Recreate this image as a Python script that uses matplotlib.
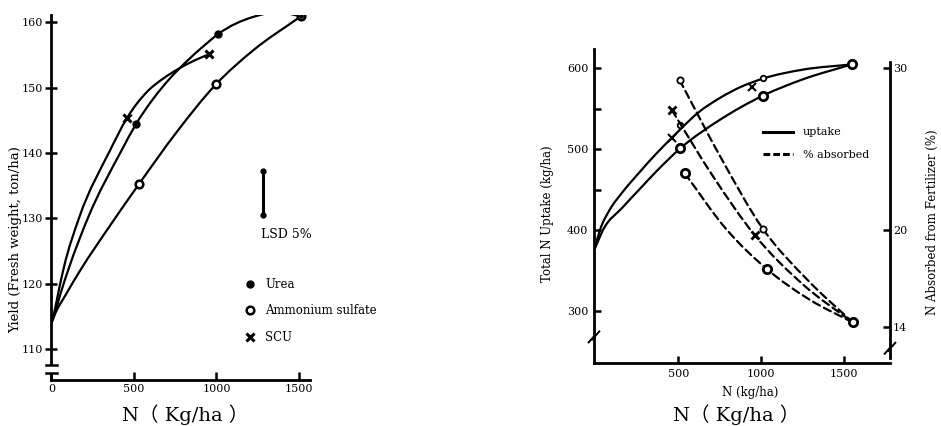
import matplotlib
matplotlib.use("Agg")
import matplotlib.pyplot as plt
from matplotlib.path import Path
from matplotlib.patches import PathPatch
from matplotlib.lines import Line2D

plt.rcParams["font.family"] = ["DejaVu Serif", "Noto Sans CJK SC"]

# ---- left panel: yield (ton/ha) vs N (kg/ha) ----
urea_n = [512, 1011, 1512]
urea_yield = [144.4, 158.2, 160.9]
as_n = [532, 997, 1512]
as_yield = [135.3, 150.5, 160.9]
scu_n = [459, 956]
scu_yield = [145.4, 155.1]

# curve traces
urea_curve_n = [0, 20, 56, 108, 223, 425, 512, 617, 718, 819, 920, 1011, 1222, 1385, 1512]
urea_curve_y = [114, 115.5, 118.6, 122.6, 130.2, 140.4, 144.4, 148.3, 151.4, 154.0, 156.3, 158.2, 160.8, 161.5, 160.9]
scu_curve_n = [0, 20, 41, 76, 169, 355, 459, 577, 678, 779, 880, 956]
scu_curve_y = [114, 116, 118.6, 122.6, 130.2, 140.4, 145.4, 149.3, 151.4, 153.0, 154.3, 155.1]
as_curve_n = [0, 20, 88, 173, 355, 532, 759, 997, 1223, 1512]
as_curve_y = [114, 115.3, 118.4, 122.0, 128.9, 135.3, 143.2, 150.5, 155.7, 160.9]

lsd_n = 1284
lsd_range = [130.5, 137.3]

# ---- right panel: N uptake (kg/ha) and % absorbed ----
up_hi_curve_n = [0, 30, 84, 165, 265, 366, 462, 513, 620, 750, 880, 1011, 1250, 1545]
up_hi_curve_y = [380, 401, 424, 447, 471, 494, 514, 524.5, 545, 563, 577, 587, 598, 604.5]
up_lo_curve_n = [0, 44, 165, 265, 366, 513, 750, 1011, 1250, 1545]
up_lo_curve_y = [378, 399, 428, 450, 472, 501, 536, 566, 586, 604.5]
up_urea_n = [513, 1011]
up_urea_y = [530, 588]
up_scu_n = [462, 944]
up_scu_y = [514, 577]
up_as_n = [513, 1011, 1545]
up_as_y = [501, 566, 604.5]

pct_urea_n = [508, 760, 1011, 1280, 1550]
pct_urea = [29.25, 24.4, 20.05, 16.9, 14.3]
pct_scu_n = [461, 710, 959, 1255, 1550]
pct_scu = [27.4, 23.3, 19.7, 16.6, 14.3]
pct_as_n = [539, 785, 1032, 1291, 1550]
pct_as = [23.5, 20.1, 17.6, 15.7, 14.3]
pct_urea_mk_n = [508, 1011]
pct_urea_mk = [29.25, 20.05]
pct_scu_mk_n = [461, 959]
pct_scu_mk = [27.4, 19.7]
pct_as_mk_n = [539, 1032, 1550]
pct_as_mk = [23.5, 17.6, 14.3]

LW = 1.6
DASH = (0, (3.5, 2.0))


def smooth(ax, xs, ys, **kw):
    # cubic Hermite through the traced points (slopes from neighbours), drawn as Bezier path
    n = len(xs)
    m = []
    for i in range(n):
        if i == 0:
            m.append((ys[1] - ys[0]) / (xs[1] - xs[0]))
        elif i == n - 1:
            m.append((ys[-1] - ys[-2]) / (xs[-1] - xs[-2]))
        else:
            h0 = xs[i] - xs[i - 1]
            h1 = xs[i + 1] - xs[i]
            s0 = (ys[i] - ys[i - 1]) / h0
            s1 = (ys[i + 1] - ys[i]) / h1
            m.append((s0 * h1 + s1 * h0) / (h0 + h1))
    verts = [(xs[0], ys[0])]
    codes = [Path.MOVETO]
    for i in range(n - 1):
        h = xs[i + 1] - xs[i]
        verts += [(xs[i] + h / 3, ys[i] + m[i] * h / 3),
                  (xs[i + 1] - h / 3, ys[i + 1] - m[i + 1] * h / 3),
                  (xs[i + 1], ys[i + 1])]
        codes += [Path.CURVE4] * 3
    ax.add_patch(PathPatch(Path(verts, codes), fill=False, lw=LW, color="black",
                           capstyle="round", **kw))


fig = plt.figure(figsize=(9.41, 4.26), dpi=100)

# ================= left panel =================
ax1 = fig.add_axes([0.0547, 0.108, 0.2747, 0.8568])
ax1.set_xlim(0, 1567)
ax1.set_ylim(105.3, 161.1)
for s in ("top", "right"):
    ax1.spines[s].set_visible(False)
for s in ("left", "bottom"):
    ax1.spines[s].set_linewidth(2.0)

smooth(ax1, urea_curve_n, urea_curve_y)
smooth(ax1, scu_curve_n, scu_curve_y)
smooth(ax1, as_curve_n, as_curve_y)

h_urea, = ax1.plot(urea_n, urea_yield, "o", ms=5, color="black", ls="none", label="Urea")
h_as, = ax1.plot(as_n, as_yield, "o", ms=5.5, mfc="white", mec="black", mew=1.8,
                 ls="none", label="Ammonium sulfate")
ax1.plot(urea_n[-1:], urea_yield[-1:], "o", ms=2.5, color="black")
h_scu, = ax1.plot(scu_n, scu_yield, "x", ms=6, mew=2.2, color="black", ls="none", label="SCU")

ax1.plot([lsd_n, lsd_n], lsd_range, "-o", lw=2.2, ms=3.5, color="black")
ax1.text(lsd_n - 15, 127.6, "LSD 5%", fontsize=9, va="center", ha="left")

ax1.legend(handles=[h_urea, h_as, h_scu], loc="upper left", bbox_to_anchor=(0.745, 0.28),
           frameon=False, fontsize=8.5, handlelength=1.0, handletextpad=0.8,
           labelspacing=1.15, borderpad=0, borderaxespad=0)

ax1.set_xticks([0, 500, 1000, 1500])
ax1.set_yticks([110, 120, 130, 140, 150, 160])
ax1.tick_params(axis="y", direction="inout", length=8, width=1.8, labelsize=8, pad=2)
ax1.tick_params(axis="x", direction="in", length=6, width=1.8, labelsize=8, pad=3)

# axis break on the y axis
ax1.fill_between([-0.02, 0.02], 106.5, 107.4, transform=ax1.get_yaxis_transform(),
                 color="white", clip_on=False, zorder=5)
for yb in (107.55, 106.35):
    ax1.plot([-0.02, 0.02], [yb, yb], transform=ax1.get_yaxis_transform(),
             color="black", lw=1.8, clip_on=False, zorder=6)

fig.text(0.017, 0.437, "Yield (Fresh weight, ton/ha)", rotation=90, fontsize=9.5,
         ha="center", va="center")
fig.text(0.197, 0.012, "N（ Kg/ha ）", fontsize=14, ha="center", va="baseline")

# ================= right panel =================
ax2 = fig.add_axes([0.6312, 0.1479, 0.3146, 0.7371])
ax2.set_xlim(-8, 1775)
ax2.set_ylim(235.8, 623.5)
ax2.spines["top"].set_visible(False)
ax2.spines["right"].set_visible(False)
for s in ("left", "bottom"):
    ax2.spines[s].set_linewidth(2.0)

ax3 = ax2.twinx()
ax3.set_ylim(235.8 / 20, 623.5 / 20)
for s in ("top", "left", "bottom"):
    ax3.spines[s].set_visible(False)
ax3.spines["right"].set_linewidth(2.0)
ax3.spines["right"].set_bounds(12.1, 30.4)

smooth(ax2, up_hi_curve_n, up_hi_curve_y)
smooth(ax2, up_lo_curve_n, up_lo_curve_y)
ax2.plot(up_urea_n, up_urea_y, "o", ms=4, mfc="white", mec="black", mew=1.3, ls="none")
ax2.plot(up_scu_n, up_scu_y, "x", ms=6, mew=1.5, color="black", ls="none")
ax2.plot(up_as_n, up_as_y, "o", ms=6, mfc="white", mec="black", mew=2, ls="none")

smooth(ax3, pct_urea_n, pct_urea, linestyle=DASH)
smooth(ax3, pct_scu_n, pct_scu, linestyle=DASH)
smooth(ax3, pct_as_n, pct_as, linestyle=DASH)
ax3.plot(pct_urea_mk_n, pct_urea_mk, "o", ms=4.5, mfc="white", mec="black", mew=1.3, ls="none")
ax3.plot(pct_scu_mk_n, pct_scu_mk, "x", ms=6, mew=2, color="black", ls="none")
ax3.plot(pct_as_mk_n, pct_as_mk, "o", ms=6, mfc="white", mec="black", mew=2, ls="none")

leg_handles = [Line2D([], [], color="black", lw=2.2),
               Line2D([], [], color="black", lw=2.2, linestyle=(0, (2.2, 1.0)))]
ax2.legend(leg_handles, ["uptake", "% absorbed"], loc="upper left",
           bbox_to_anchor=(0.571, 0.75), frameon=False, fontsize=8,
           handlelength=2.7, handletextpad=0.9, labelspacing=1.1,
           borderpad=0, borderaxespad=0)

ax2.set_xticks([500, 1000, 1500])
ax2.set_yticks([300, 400, 500, 600])
ax2.set_yticks([450, 550], minor=True)
ax2.tick_params(axis="y", which="both", direction="in", length=5, width=1.8,
                labelsize=8, pad=4)
ax2.tick_params(axis="x", direction="in", length=5, width=1.8, labelsize=8, pad=4)
ax3.set_yticks([14, 20, 30])
ax3.tick_params(axis="y", direction="in", length=5, width=1.8, labelsize=8, pad=2)

fig.text(0.5823, 0.499, "Total N Uptake (kg/ha)", rotation=90, fontsize=8.5,
         ha="center", va="center")
fig.text(0.9905, 0.478, "N Absorbed from Fertilizer (%)", rotation=90, fontsize=8.5,
         ha="center", va="center")
fig.text(0.797, 0.0775, "N (kg/ha)", fontsize=8.5, ha="center", va="center")

# break marks on both vertical axes
for ax, xa, yb, dy in ((ax2, 0.0, 268, 5), (ax3, 1.0, 12.7, 0.25)):
    for off in (-0.006, 0.006):
        ax.plot([xa - 0.012 + off, xa + 0.012 + off],
                [yb - dy + off * 300 * dy / 5, yb + dy + off * 300 * dy / 5],
                transform=ax.get_yaxis_transform(), color="black", lw=1.4, clip_on=False)

fig.text(0.782, 0.012, "N（ Kg/ha ）", fontsize=14, ha="center", va="baseline")

fig.savefig("out.png", dpi=100)
